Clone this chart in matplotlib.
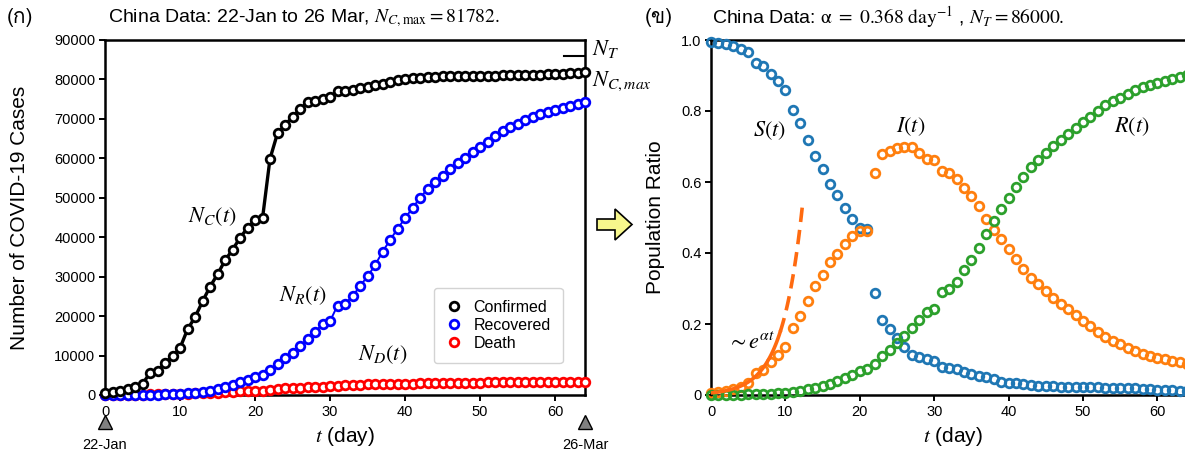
import numpy as np
import matplotlib
matplotlib.use("Agg")
import matplotlib.pyplot as plt
from matplotlib import font_manager
from matplotlib.ft2font import FT2Font
from matplotlib.lines import Line2D
from matplotlib.patches import Polygon
from matplotlib.ticker import FuncFormatter

# China, cumulative counts 22-Jan .. 26-Mar
confirmed = [548, 643, 920, 1406, 2075, 2877, 5509, 6087, 8141, 9802,
             11891, 16630, 19716, 23707, 27440, 30587, 34110, 36814, 39829, 42354,
             44386, 44759, 59895, 66358, 68413, 70513, 72434, 74211, 74619, 75077,
             75550, 77001, 77022, 77241, 77754, 78166, 78600, 78928, 79356, 79932,
             80136, 80261, 80386, 80537, 80690, 80770, 80823, 80860, 80887, 80921,
             80932, 80945, 80977, 81003, 81033, 81058, 81102, 81156, 81250, 81305,
             81435, 81498, 81591, 81661, 81782]
recovered = [28, 30, 36, 39, 49, 58, 101, 120, 135, 214,
             275, 463, 614, 843, 1115, 1476, 1998, 2595, 3218, 3917,
             4635, 5079, 6213, 7973, 9294, 10748, 12455, 14199, 15952, 18002,
             18693, 22687, 23170, 24990, 27650, 30053, 32898, 36291, 39279, 42118,
             44810, 47404, 49955, 52240, 53888, 55478, 57320, 58735, 60106, 61644,
             62901, 64196, 65660, 67017, 67910, 68798, 69755, 70535, 71266, 71857,
             72362, 72814, 73280, 73773, 74181]
deaths = [17, 18, 26, 42, 56, 82, 131, 133, 171, 213,
          259, 361, 425, 490, 562, 632, 717, 804, 904, 1011,
          1111, 1116, 1368, 1520, 1662, 1765, 1863, 2002, 2114, 2118,
          2236, 2236, 2441, 2443, 2593, 2663, 2715, 2744, 2788, 2836,
          2871, 2902, 2947, 2983, 3015, 3044, 3072, 3100, 3123, 3139,
          3161, 3172, 3180, 3193, 3203, 3217, 3230, 3241, 3249, 3253,
          3259, 3274, 3274, 3281, 3291]
n_total = 86000
alpha = 0.368
i_start = 0.0058
date_labels = ["22-Jan", "26-Mar"]

days = np.arange(len(confirmed))
conf = np.array(confirmed, float)
rec = np.array(recovered, float)
dead = np.array(deaths, float)
s_ratio = 1 - (conf + dead) / n_total
i_ratio = (conf - rec) / n_total
r_ratio = (rec + dead) / n_total

plt.rcParams["font.family"] = ["Liberation Sans", "DejaVu Sans"]
plt.rcParams["mathtext.fontset"] = "stix"


def find_thai_font():
    for f in font_manager.fontManager.ttflist:
        try:
            if 0x0E01 in FT2Font(f.fname).get_charmap():
                return f.name
        except Exception:
            continue
    return "DejaVu Sans"


thai = find_thai_font()

fig = plt.figure(figsize=(11.85, 4.57), dpi=100)
ax1 = fig.add_axes([105 / 1185, 62 / 457, 480 / 1185, 355 / 457])
ax2 = fig.add_axes([711 / 1185, 62 / 457, 483.6 / 1185, 355 / 457])

for ax in (ax1, ax2):
    for sp in ax.spines.values():
        sp.set_linewidth(1.8)
    ax.tick_params(direction="out", length=4, width=1.4, labelsize=10.5, pad=3)

mk = dict(marker="o", ms=6.2, mew=2.0, mfc="white", clip_on=False)

# ---- left panel: raw counts
ax1.plot(days, deaths, color="red", lw=1.0, zorder=3, **mk)
ax1.plot(days, recovered, color="blue", lw=1.4, zorder=4, **mk)
ax1.plot(days, confirmed, color="black", lw=2.4, zorder=5, **mk)
ax1.plot([61.2, 63.8], [n_total, n_total], color="black", lw=1.5, zorder=6)
ax1.set_xlim(0, 64)
ax1.set_ylim(0, 90000)
ax1.set_xticks(range(0, 61, 10))
ax1.set_yticks(range(0, 90001, 10000))
ax1.set_ylabel("Number of COVID-19 Cases", fontsize=15)
ax1.yaxis.set_label_coords(-0.158, 0.5)
ax1.set_xlabel("$t$ (day)", fontsize=15)
ax1.xaxis.set_label_coords(0.5, -0.085)

handles = [Line2D([], [], ls="none", marker="o", ms=6.2, mew=2.0, mfc="white", color=c)
           for c in ("black", "blue", "red")]
ax1.legend(handles, ["Confirmed", "Recovered", "Death"], loc="upper right",
           bbox_to_anchor=(0.97, 0.325), fontsize=11.5, handlelength=1.0,
           handletextpad=0.7, labelspacing=0.2, borderpad=0.75, edgecolor="#c8c8c8")

ax1.text(11.0, 45200, "$N_C(t)$", fontsize=16, va="center")
ax1.text(23.2, 25300, "$N_R(t)$", fontsize=16, va="center")
ax1.text(33.8, 10200, "$N_D(t)$", fontsize=16, va="center")
ax1.text(1.015, 0.975, "$N_T$", transform=ax1.transAxes, fontsize=16, va="center")
ax1.text(1.015, 0.885, "$N_{C,max}$", transform=ax1.transAxes, fontsize=16, va="center")

tr = ax1.get_xaxis_transform()
ax1.plot([days[0], days[-1]], [-0.075, -0.075], ls="none", marker="^", ms=10,
         mfc="#808080", mec="black", mew=1.0, transform=tr, clip_on=False)
for x, lab in zip([days[0], days[-1]], date_labels):
    ax1.text(x, -0.14, lab, transform=tr, ha="center", va="center", fontsize=10.5)

# ---- right panel: population ratios
colors = ["#1f77b4", "#ff7f0e", "#2ca02c"]
for vals, c in zip((s_ratio, i_ratio, r_ratio), colors):
    ax2.plot(days, vals, ls="none", marker="o", ms=6.2, mew=2.0, mfc="none",
             mec=c, clip_on=False, zorder=3)

t_solid = np.linspace(0, 9.3, 60)
t_dash = np.linspace(9.3, 12.3, 40)
ax2.plot(t_solid, i_start * np.exp(alpha * t_solid), color="#ff6a10", lw=2.6, zorder=4)
ax2.plot(t_dash, i_start * np.exp(alpha * t_dash), color="#ff6a10", lw=2.6,
         ls=(0, (4, 2.2)), zorder=4)

ax2.set_xlim(0, 65)
ax2.set_ylim(0, 1)
ax2.set_xticks(range(0, 61, 10))
ax2.set_yticks([0, 0.2, 0.4, 0.6, 0.8, 1.0])
ax2.yaxis.set_major_formatter(FuncFormatter(lambda v, p: "0" if v == 0 else f"{v:.1f}"))
ax2.set_ylabel("Population Ratio", fontsize=15)
ax2.yaxis.set_label_coords(-0.095, 0.5)
ax2.set_xlabel("$t$ (day)", fontsize=15)
ax2.xaxis.set_label_coords(0.5, -0.085)

ax2.text(5.6, 0.745, "$S(t)$", fontsize=16, va="center")
ax2.text(24.8, 0.755, "$I(t)$", fontsize=16, va="center")
ax2.text(54.2, 0.755, "$R(t)$", fontsize=16, va="center")
ax2.text(2.2, 0.145, r"$\sim e^{\alpha t}$", fontsize=16, va="center")

# ---- titles and panel marks
fig.text(108 / 1185, 0.962, r"China Data: 22-Jan to 26 Mar, $N_{C,\mathrm{max}} = 81782.$",
         fontsize=14, va="center")
fig.text(712 / 1185, 0.962,
         r"China Data: $\mathrm{\alpha\ =\ 0.368\ day}^{-1}$ , $N_T = 86000.$",
         fontsize=14, va="center")
fig.text(7 / 1185, 0.962, "(ก)", fontsize=15, va="center", family=[thai, "DejaVu Sans"])
fig.text(645 / 1185, 0.962, "(ข)", fontsize=15, va="center", family=[thai, "DejaVu Sans"])

# yellow arrow between panels
px = np.array([597, 615, 615, 632, 615, 615, 597])
py = np.array([219, 219, 209, 224.5, 240, 230, 230])
arrow = Polygon(np.column_stack([px / 1185, 1 - py / 457]), closed=True,
                transform=fig.transFigure, facecolor="#f7f78c", edgecolor="black", lw=1.2)
fig.patches.append(arrow)

fig.savefig("out.png", dpi=100)
